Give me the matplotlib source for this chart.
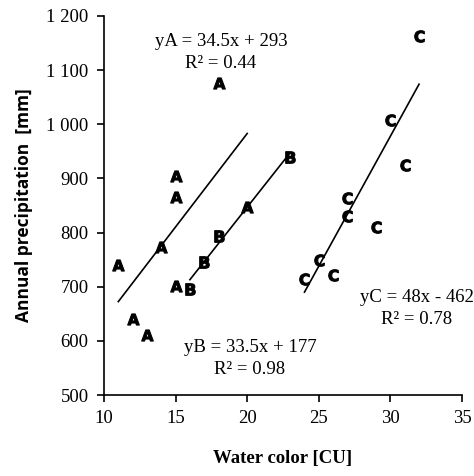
import matplotlib
matplotlib.use("Agg")
import matplotlib.pyplot as plt
import numpy as np
from matplotlib.ticker import FixedLocator, FixedFormatter

# Data
xA = [11, 12, 13, 14, 15, 15, 15, 18, 20]
yA = [740, 640, 610, 773, 905, 866, 702, 1077, 847]
xB = [16, 17, 18, 23]
yB = [695, 746, 793, 940]
xC = [24, 25, 26, 27, 27, 29, 30, 31, 32]
yC = [715, 750, 722, 864, 830, 810, 1008, 925, 1163]

# Trend lines (slope, intercept, x-range)
fitA = (34.5, 293, 11, 20)
fitB = (33.5, 177, 16, 23)
fitC = (48.0, -462, 24, 32)

eqA = ("yA = 34.5x + 293", "R² = 0.44")
eqB = ("yB = 33.5x + 177", "R² = 0.98")
eqC = ("yC = 48x - 462", "R² = 0.78")

xticks = [10, 15, 20, 25, 30, 35]
yticks = [500, 600, 700, 800, 900, 1000, 1100, 1200]
ytick_labels = ["500", "600", "700", "800", "900", "1 000", "1 100", "1 200"]

serif = ["Liberation Serif", "DejaVu Serif"]

fig = plt.figure(figsize=(4.74, 4.76), dpi=100)
ax = fig.add_axes([104/474, 1-395/476, (462-104)/474, (395-16)/476])

for xs, ys, m in ((xA, yA, "A"), (xB, yB, "B"), (xC, yC, "C")):
    ax.scatter(xs, ys, marker=r"$\mathbf{%s}$" % m, s=70, c="black",
               linewidths=0.8, edgecolors="black", zorder=3)

for (k, b, x0, x1) in (fitA, fitB, fitC):
    xx = np.array([x0, x1])
    ax.plot(xx, k*xx + b, color="black", lw=1.2, zorder=2)

ax.set_xlim(10, 35)
ax.set_ylim(500, 1200)
ax.xaxis.set_major_locator(FixedLocator(xticks))
ax.yaxis.set_major_locator(FixedLocator(yticks))
ax.yaxis.set_major_formatter(FixedFormatter(ytick_labels))
ax.spines["top"].set_visible(False)
ax.spines["right"].set_visible(False)
for s in ("left", "bottom"):
    ax.spines[s].set_linewidth(1.2)
ax.tick_params(direction="out", length=5, width=1.2, labelsize=13.5, pad=6)
for lab in ax.get_xticklabels() + ax.get_yticklabels():
    lab.set_family(serif)

ax.set_xlabel("Water color [CU]", family=serif, fontweight="bold", fontsize=13.5, labelpad=16)
ax.set_ylabel("Annual precipitation  [mm]", family=["Open Sans", "DejaVu Sans"],
              fontweight="bold", fontsize=12.5, labelpad=10)

def put(txts, px, py1, py2):
    fig.text(px/474, 1-py1/476, txts[0], family=serif, fontsize=13.5, ha="center", va="center")
    fig.text(px/474, 1-py2/476, txts[1], family=serif, fontsize=13.5, ha="center", va="center")

put(eqA, 221, 42, 64)
put(eqB, 250, 347, 369)
put(eqC, 417, 298, 320)

fig.savefig("out.png", dpi=100)
